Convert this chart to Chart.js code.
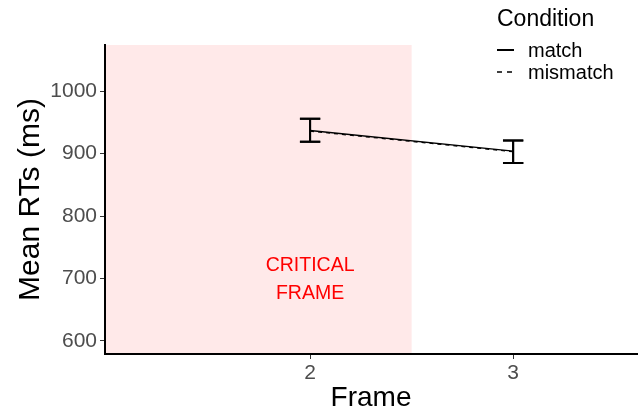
<!DOCTYPE html>
<html>
<head>
<meta charset="utf-8">
<script src="https://cdn.jsdelivr.net/npm/chart.js@4"></script>
<style>
  html, body { margin: 0; padding: 0; background: #fff; }
  #wrap { width: 640px; height: 412px; }
</style>
</head>
<body>
<div id="wrap"><canvas id="rtChart" width="640" height="412"></canvas></div>
<script>
// Mean RTs by frame (ms)
const frames = [2, 3];
const matchRT = [937, 904];
const matchLo = [919, 885];
const matchHi = [956, 921];
const mismatchRT = [936, 903];
const mismatchLo = [919, 885];
const mismatchHi = [956, 921];
const xTicks = [2, 3];
const yTicks = [600, 700, 800, 900, 1000];
const criticalEnd = 2.5;
const criticalLabel = ["CRITICAL", "FRAME"];
const criticalLabelY = [720, 676];

const FONT = "'Liberation Sans', Arial, sans-serif";

// pink shaded region + red label (drawn before the axes)
const shadePlugin = {
  id: "shade",
  beforeDraw(chart) {
    const { ctx, chartArea, scales } = chart;
    const xEnd = scales.x.getPixelForValue(criticalEnd);
    ctx.save();
    ctx.fillStyle = "rgba(255, 233, 233, 1)";
    ctx.fillRect(chartArea.left, chartArea.top, xEnd - chartArea.left, chartArea.bottom - chartArea.top);
    ctx.fillStyle = "#ff0000";
    ctx.font = "19.5px " + FONT;
    ctx.textAlign = "center";
    ctx.textBaseline = "middle";
    criticalLabel.forEach((t, i) => {
      ctx.fillText(t, scales.x.getPixelForValue(2), scales.y.getPixelForValue(criticalLabelY[i]));
    });
    ctx.restore();
  }
};

// error bars
const errorBarPlugin = {
  id: "errbars",
  afterDatasetsDraw(chart) {
    const { ctx, scales } = chart;
    const bars = [[matchLo, matchHi], [mismatchLo, mismatchHi]];
    ctx.save();
    ctx.strokeStyle = "#000";
    ctx.lineWidth = 2;
    bars.forEach(([lo, hi]) => {
      frames.forEach((f, i) => {
        const x = scales.x.getPixelForValue(f);
        const w = scales.x.getPixelForValue(f + 0.05) - x;
        const y1 = scales.y.getPixelForValue(lo[i]);
        const y2 = scales.y.getPixelForValue(hi[i]);
        ctx.beginPath();
        ctx.moveTo(x, y1); ctx.lineTo(x, y2);
        ctx.moveTo(x - w, y1); ctx.lineTo(x + w, y1);
        ctx.moveTo(x - w, y2); ctx.lineTo(x + w, y2);
        ctx.stroke();
      });
    });
    ctx.restore();
  }
};

// ggplot-style legend in the top right
const legendPlugin = {
  id: "condLegend",
  afterDraw(chart) {
    const { ctx } = chart;
    ctx.save();
    ctx.fillStyle = "#000";
    ctx.textBaseline = "middle";
    ctx.font = "23px " + FONT;
    ctx.fillText("Condition", 497, 20);
    ctx.font = "20px " + FONT;
    ctx.fillText("match", 528, 51);
    ctx.fillText("mismatch", 528, 73);
    ctx.strokeStyle = "#000";
    ctx.lineWidth = 2;
    ctx.beginPath(); ctx.moveTo(497, 50); ctx.lineTo(514, 50); ctx.stroke();
    ctx.lineWidth = 1.3;
    ctx.setLineDash([5, 5]);
    ctx.beginPath(); ctx.moveTo(497, 72); ctx.lineTo(514, 72); ctx.stroke();
    ctx.restore();
  }
};

const ctx = document.getElementById("rtChart").getContext("2d");
new Chart(ctx, {
  type: "line",
  data: {
    datasets: [{
      label: "match",
      data: frames.map((f, i) => ({ x: f, y: matchRT[i] })),
      borderColor: "#000",
      borderWidth: 1.5,
      pointRadius: 0,
      fill: false
    }, {
      label: "mismatch",
      data: frames.map((f, i) => ({ x: f, y: mismatchRT[i] })),
      borderColor: "#000",
      borderWidth: 1.2,
      borderDash: [4, 4],
      pointRadius: 0,
      fill: false
    }]
  },
  options: {
    responsive: false,
    animation: false,
    layout: { padding: { top: 45, right: 3, left: 0, bottom: 0 } },
    plugins: {
      legend: { display: false },
      tooltip: { enabled: false }
    },
    scales: {
      x: {
        type: "linear",
        min: 0.99,
        max: 3.61,
        afterBuildTicks: (s) => { s.ticks = xTicks.map(v => ({ value: v })); },
        afterFit: (s) => { s.height = 58; },
        ticks: { color: "#4d4d4d", font: { family: FONT, size: 21 }, padding: 2 },
        grid: { drawOnChartArea: false, drawTicks: true, tickLength: 5, color: "#333" },
        border: { display: true, color: "#000", width: 2 },
        title: { display: true, text: "Frame", color: "#000", font: { family: FONT, size: 28 }, padding: { top: 0, bottom: -3 } }
      },
      y: {
        min: 579,
        max: 1074,
        afterBuildTicks: (s) => { s.ticks = yTicks.map(v => ({ value: v })); },
        afterFit: (s) => { s.width = 105; },
        ticks: {
          color: "#4d4d4d", font: { family: FONT, size: 21 }, padding: 3,
          callback: (v) => String(v)
        },
        grid: { drawOnChartArea: false, drawTicks: true, tickLength: 5, color: "#333" },
        border: { display: true, color: "#000", width: 2 },
        title: { display: true, text: "Mean RTs (ms)", color: "#000", font: { family: FONT, size: 30 }, padding: { bottom: 0, top: 13 } }
      }
    }
  },
  plugins: [shadePlugin, errorBarPlugin, legendPlugin]
});
</script>
</body>
</html>
